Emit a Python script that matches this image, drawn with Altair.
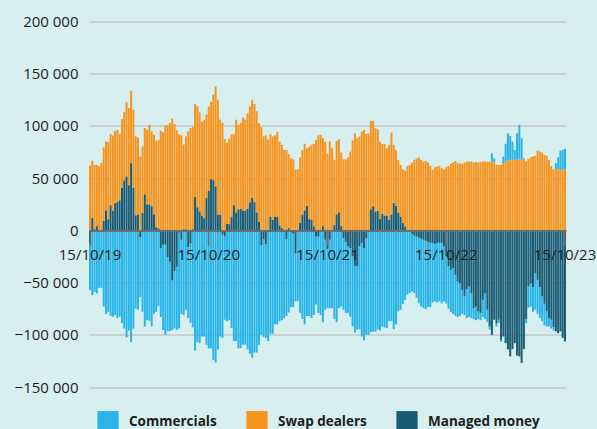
import altair as alt
import pandas as pd
import jinja2

# values in thousands, one bar per week from 15/10/2019
commercials = [
    -45, -62, -59, -60.5, -54, -54, -73, -80, -78, -82, -83, -81, -84, -82.5, -89, -94, -102.5, -96, -107, -94,
    -75, -76, -57.6, -78, -92, -86, -86.6, -92, -80, -78, -72.6, -66, -81.8, -86.3, -71, -66.5, -47.5, -55, -60.5, -92,
    -71, -81, -76, -68, -75.8, -93, -115, -107, -108,
    -101.6, -101.6, -109.6, -113, -113, -124, -126.5, -114, -101.6, -99, -79.6, -87, -86, -93.6, -106, -106, -113, -113,
    -109.6, -109.6, -114, -118, -122, -117, -117, -109.6, -86, -93.5, -90, -106, -99, -99, -90, -90, -87, -86, -84,
    -73.5, -78.6, -73.5, -70.5, -46, -67, -79, -85, -90, -82, -82, -84, -81, -65, -73,
    -80, -88, -67, -56.5, -65.5, -73.5, -85, -88, -74.5, -73, -68.5, -68, -64, -66, -67, -64, -60.4, -79.6, -89.6,
    -88.4, -92.5, -99.5, -97.5, -97, -97, -95, -96, -92, -93, -93.6, -87, -87, -94.6, -90, -77.6, -76, -70.5, -66.5,
    -61.7, -59, -55.5, -55, -58.6, -62.7, -65, -65.5, -65.5, -62.5, -61.5, -57, -55, -57, -56,
    -58, -52.5, -45, -40.4, -40.2, -44, -39.4, -34, -31.4, -23, -17.7, -27.7, -29.3, -24, -10.5, -13, -7.3, -7, -16.5,
    -25, -12, -3, 8, 4, -3, -3, -2, 6.4, 17, 26, 23, 17.5, 9.5, 25.5, 33, 20.7, 1, -4, -20.3, -22, -23.6, -35, -32.6,
    -29.6, -23.7, -20.7, -14.3, -8, -8.4, -3.3, 5.8, 11.5, 18.5, 19.2, 20,
]
swap_dealers = [
    61.9, 54.9, 61.8, 58.8, 61.6, 64.8, 70.4, 66.2, 74, 68.2, 72.4, 69.4, 69.3, 63.5, 65.7, 65.4, 70.9, 74, 69.4, 74.7,
    75.7, 74, 70.5, 63.8, 63.6, 71.5, 76.2, 71.7, 76.3, 82.8, 84.8, 95.4, 93.8, 100.2, 101, 102.7, 107, 101.8, 96, 92,
    91, 81, 89, 95, 98, 98, 89, 97, 95,
    90, 94.4, 80, 80.5, 74, 82, 95.6, 110, 91, 103, 87.6, 78, 82, 79, 68, 89, 81, 82.4, 89.3, 87.3, 91.4, 91.9, 94, 94,
    97, 94.5, 99, 90, 91, 87, 79, 80, 78, 81.5, 80.4, 80, 77, 77, 71, 69, 68, 58, 58.5, 63, 62, 64.3, 55.2, 69.3, 72,
    79, 86.6, 91,
    91.4, 84.2, 85, 73.2, 85, 78.6, 62.5, 70.6, 70.6, 70.5, 68.1, 68.1, 70, 75.4, 86, 93, 88.2, 89.8, 94.6, 96.2, 92.3,
    93, 84.8, 81.8, 79.8, 78.1, 74.3, 67, 68.5, 64.6, 71.8, 78.6, 55.8, 53.6, 50.5, 49.7, 51.5, 53.6, 61.7, 62.7, 64.9,
    67.5, 69, 69.7, 67.5, 65.9, 66.5, 64.9, 61.7, 57.9, 60.4, 61, 61.7,
    59.5, 58.5, 60.4, 61.7, 63.6, 65, 66.5, 64.3, 64.3, 63.6, 65, 65.9, 65.9, 65.9, 65, 65.5, 65, 65.5, 66, 66, 65.9,
    65.9, 65.9, 64.9, 62.7, 62.7, 62.7, 64.3, 65.9, 66.8, 67.5, 67.5, 67.5, 67.5, 68.1, 67.5, 68.1, 66.2, 68.4, 70,
    70.7, 71.3, 76.4, 75.4, 74.5, 72.2, 71.3, 67.5, 61.7, 58.5, 58.5, 58.5, 57.9, 58, 58,
]
managed_money = [
    -12, 11.8, 1, 4, -1, -1, 9, 19, 10.5, 24, 18.5, 26, 27, 28.7, 40.8, 47.8, 51.6, 43, 64.3, 40.8, 14.3, 15, -6.4,
    16.6, 34.4, 24.8, 24.8, 23, 15.3, 3, 2, -17, -13.7, -13.7, -25.5, -30, -48, -39, -35, -2, -9, 1, 1, -16, -12.7, 1,
    32, 22, 18,
    14, 11.6, 31, 38, 49, 48, 42, 15, 15, -4, -6, 6, 6, 13, 24, 17, 20, 20.6, 18.7, 18.7, 20.6, 26.6, 31, 27, 17, 8,
    -14, -8.5, -13, 0, 13, 10, 13, 13, 4.6, 2, 0, -8.5, 2, 0, -3, -22, -1, 7, 15, 18.7, 23.4, 10.7, 10, 4, -6, -6,
    -1, 4, -9, -18, -9, -1, 5, 15, 17, 4, -7.5, -11, -15, -17, -25, -34, -34.6, -15, -12, -17, -7.5, -0.5, 20, 23,
    18, 18.7, 10.7, 15.8, 14, 14, 10, 15, 26, 23.4, 17, 13, 7, 3.7, 0, -1, -3, -5, -6, -7, -8, -9, -10, -11, -12, -12,
    -13, -12, -12,
    -12, -15.5, -25, -34.6, -37.8, -36, -42.6, -49, -50.6, -57, -63.3, -56.3, -53.7, -60, -74.5, -73, -77.7, -79,
    -66.5, -60, -76, -92, -100, -85.6, -89, -85.6, -104.8, -101.6, -108, -114, -120.7, -113.7, -108, -120, -120.7,
    -127, -113.7, -85, -53.7, -51, -54.4, -41, -47.4, -54.4, -63.3, -70.3, -77.7, -84, -85.6, -92.7, -96.8, -98.4,
    -96.8, -103, -106.4,
]

series_names = ["Commercials", "Swap dealers", "Managed money"]
series_colors = ["#29b5e8", "#f7941e", "#1b5c74"]
stack_order = [2, 1, 0]
tick_weeks = [0, 52, 104, 156, 208]
tick_labels = ["15/10/19", "15/10/20", "15/10/21", "15/10/22", "15/10/23"]
y_ticks = [-150, -100, -50, 0, 50, 100, 150, 200]

rows = []
for name, vals, o in zip(series_names, [commercials, swap_dealers, managed_money], stack_order):
    for i, v in enumerate(vals):
        rows.append({"week": i, "series": name, "value": v, "ord": o})
df = pd.DataFrame(rows)

label_arr = "[" + ",".join("'" + t + "'" for t in tick_labels) + "]"

chart = alt.Chart(df).mark_bar().encode(
    x=alt.X(
        "week:O",
        scale=alt.Scale(paddingInner=0.12, paddingOuter=0),
        axis=alt.Axis(
            values=tick_weeks,
            labelExpr=label_arr + "[round(datum.value/52)]",
            labelAngle=0,
            title=None,
            offset=-156.5,
            domainColor="#6b6e70",
            domainWidth=2,
            tickColor="#6b6e70",
            tickWidth=1.5,
            tickSize=15,
            labelPadding=2,
            labelFont="Open Sans",
            labelFontSize=15,
            labelColor="#1d1d1b",
            grid=False,
            zindex=1,
        ),
    ),
    y=alt.Y(
        "value:Q",
        stack="zero",
        scale=alt.Scale(domain=[-150, 200], nice=False, zero=False),
        axis=alt.Axis(
            values=y_ticks,
            labelExpr="replace(format(datum.value*1000, ','), regexp(',', 'g'), ' ')",
            title=None,
            domain=False,
            ticks=False,
            labelPadding=11,
            grid=True,
            gridColor="#c4c9ca",
            gridWidth=1.5,
            labelFont="Open Sans",
            labelFontSize=15,
            labelColor="#1d1d1b",
            zindex=0,
        ),
    ),
    color=alt.Color(
        "series:N",
        scale=alt.Scale(domain=series_names, range=series_colors),
        legend=alt.Legend(
            orient="none",
            legendX=8,
            legendY=389,
            direction="horizontal",
            title=None,
            symbolType="square",
            symbolSize=450,
            symbolStrokeWidth=0,
            labelFont="Open Sans",
            labelFontSize=13.5,
            labelFontWeight="bold",
            labelColor="#1d1d1b",
            labelOffset=10,
            columnPadding=29,
            padding=0,
        ),
    ),
    order=alt.Order("ord:Q", sort="ascending"),
).properties(
    width=477,
    height=365.5,
    background="#d8eff0",
    padding={"left": 89, "top": 21.5, "right": 31, "bottom": 42},
    autosize=alt.AutoSizeParams(type="none"),
).configure_view(strokeWidth=0)

page = jinja2.Template("""<!DOCTYPE html>
<html>
<head>
  <meta charset="utf-8">
  <style>
    html, body { margin: 0; padding: 0; overflow: hidden; background: #d8eff0; }
    #{{ output_div }}.vega-embed { width: 100%; display: flex; }
  </style>
  <script type="text/javascript" src="{{ base_url }}/vega@{{ vega_version }}"></script>
  <script type="text/javascript" src="{{ base_url }}/vega-lite@{{ vegalite_version }}"></script>
  <script type="text/javascript" src="{{ base_url }}/vega-embed@{{ vegaembed_version }}"></script>
</head>
<body>
  <div id="{{ output_div }}"></div>
  <script>
    vegaEmbed("#{{ output_div }}", {{ spec }}, {{ embed_options }}).catch(console.error);
  </script>
</body>
</html>
""")

chart.save("out.html", embed_options={"renderer": "svg", "actions": False}, template=page)
